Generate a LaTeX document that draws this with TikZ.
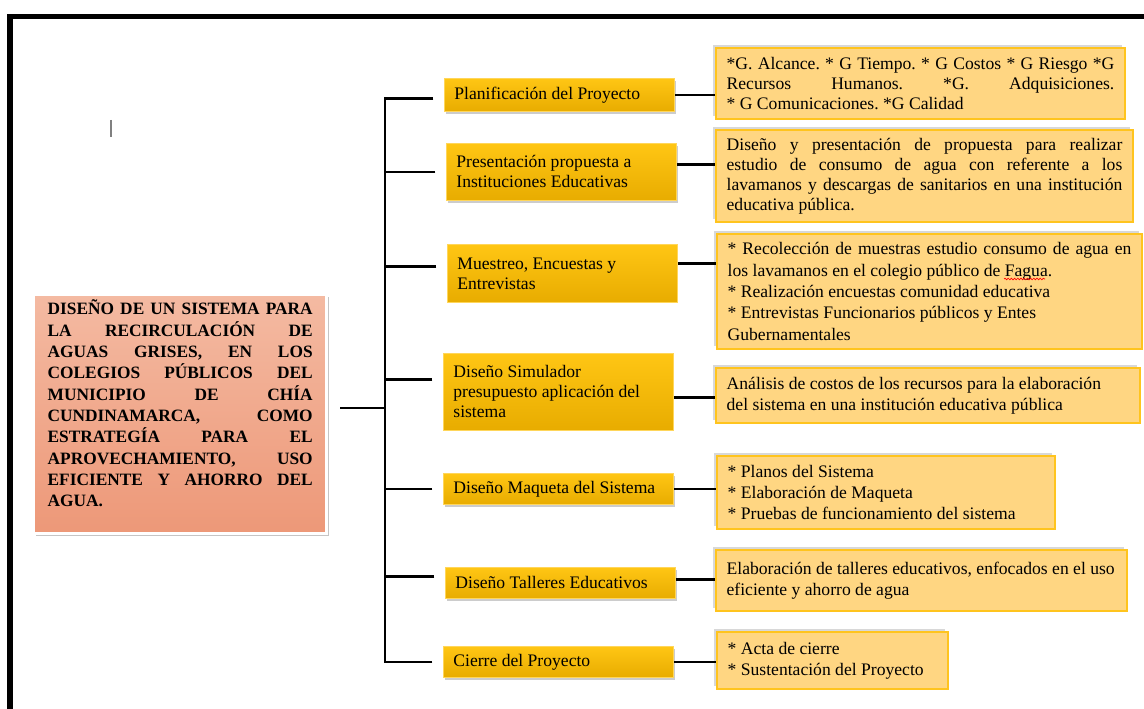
\documentclass[tikz,border=0pt]{standalone}
\usepackage{fontspec}
\setmainfont{Liberation Serif}
\usepackage{tikz}
\usetikzlibrary{positioning,calc,shadows,decorations.pathmorphing}
\frenchspacing

\definecolor{salmontop}{RGB}{244,186,162}
\definecolor{salmonbot}{RGB}{237,152,120}
\definecolor{goldtop}{RGB}{255,198,20}
\definecolor{goldbot}{RGB}{232,172,0}
\definecolor{goldline}{RGB}{255,214,90}
\definecolor{notefill}{RGB}{255,214,130}
\definecolor{noteline}{RGB}{255,196,30}

% one line stretched to the full width of the box
\newcommand\justline[1]{\makebox[\hsize][s]{\spaceskip=0pt\xspaceskip=0pt #1}}

\tikzset{
    title/.style={
        anchor=north west,
        draw=white,
        line width=2.5pt,
        top color=salmontop,
        bottom color=salmonbot,
        drop shadow={opacity=0.45, shadow xshift=1.5pt, shadow yshift=-2pt},
        text width=198.75pt,
        inner xsep=10.5pt,
        inner ysep=2pt,
        minimum height=179.25pt,
        align=justify,
        font=\bfseries\fontsize{13}{16}\selectfont
    },
    phasebox/.style={
        anchor=north west,
        draw=goldline,
        line width=0.6pt,
        top color=goldtop,
        bottom color=goldbot,
        text width=157.5pt,
        inner xsep=7.5pt,
        inner ysep=2pt,
        align=justify,
        font=\fontsize{13.2}{15}\selectfont
    },
    phase/.style={
        phasebox,
        drop shadow={opacity=0.4, shadow xshift=1.5pt, shadow yshift=-2pt}
    },
    task/.style={
        anchor=north west,
        fill=notefill,
        draw=noteline,
        line width=1.5pt,
        drop shadow={opacity=0.3, shadow xshift=-2pt, shadow yshift=2pt},
        inner xsep=8pt,
        inner ysep=2pt,
        align=justify,
        font=\fontsize{13.2}{16}\selectfont
    },
    link/.style={
        draw,
        line width=2pt
    },
    spellmark/.style={
        draw=red,
        line width=0.5pt,
        decorate,
        decoration={snake, amplitude=0.6pt, segment length=2.4pt}
    }
}

\begin{document}
\begin{tikzpicture}[x=0.75pt, y=-0.75pt]
  \path[use as bounding box, fill=white] (0,0) rectangle (1144,709);

  % page frame and cursor
  \draw[line width=4.2pt] (10,709) -- (10,16.5) -- (1144,16.5);
  \draw[gray, line width=0.9pt] (111,120) -- (111,137);

  % main title
  \node[title] (main) at (32,293) {
    \justline{DISEÑO DE UN SISTEMA PARA}\\
    \justline{LA RECIRCULACIÓN DE}\\
    \justline{AGUAS GRISES, EN LOS}\\
    \justline{COLEGIOS PÚBLICOS DEL}\\
    \justline{MUNICIPIO DE CHÍA}\\
    \justline{CUNDINAMARCA, COMO}\\
    \justline{ESTRATEGÍA PARA EL}\\
    \justline{APROVECHAMIENTO, USO}\\
    \justline{EFICIENTE Y AHORRO DEL}\\
    AGUA.\\
    \mbox{}};

  % phases
  \node[phase, minimum height=24.75pt] (plan) at (444,78) {Planificación del Proyecto};
  \node[phase, minimum height=42.75pt] (prop) at (446,143) {Presentación propuesta a\\ Instituciones Educativas};
  \node[phasebox, minimum height=43.5pt] (muest) at (447,244) {Muestreo, Encuestas y\\ Entrevistas};
  \node[phasebox, minimum height=57.75pt] (simul) at (443,353) {Diseño Simulador\\ presupuesto aplicación del\\ sistema};
  \node[phase, minimum height=23.25pt] (maq) at (443,473) {Diseño Maqueta del Sistema};
  \node[phase, minimum height=23.25pt] (tall) at (445,567) {Diseño Talleres Educativos};
  \node[phase, minimum height=23.25pt] (cierre) at (443,646) {Cierre del Proyecto};

  % tasks of each phase
  \node[task, text width=290.75pt, minimum height=53.25pt, font=\fontsize{13.2}{15}\selectfont] (d1) at (715,47) {
    \justline{*G. Alcance. * G Tiempo. * G Costos * G Riesgo *G}\\
    \justline{Recursos Humanos. *G. Adquisiciones.}\\
    {*} G Comunicaciones. *G Calidad};
  \node[task, text width=296.75pt, minimum height=69pt, font=\fontsize{13.2}{15}\selectfont] (d2) at (715,129) {
    \justline{Diseño y presentación de propuesta para realizar}\\
    \justline{estudio de consumo de agua con referente a los}\\
    \justline{lavamanos y descargas de sanitarios en una institución}\\
    educativa pública.};
  \node[task, text width=302.75pt, minimum height=86.25pt] (d3) at (716,233) {
    \justline{* Recolección de muestras estudio consumo de agua en}\\
    los lavamanos en el colegio público de Fagua.\\
    {*} Realización encuestas comunidad educativa\\
    {*} Entrevistas Funcionarios públicos y Entes\\
    Gubernamentales};
  \node[task, text width=302pt, minimum height=41.25pt] (d4) at (715,367) {
    Análisis de costos de los recursos para la elaboración\\
    del sistema en una institución educativa pública};
  \node[task, text width=237.5pt, minimum height=54.75pt] (d5) at (716,455) {
    {*} Planos del Sistema\\
    {*} Elaboración de Maqueta\\
    {*} Pruebas de funcionamiento del sistema};
  \node[task, text width=292.25pt, minimum height=45.75pt] (d6) at (715,549) {
    Elaboración de talleres educativos, enfocados en el uso\\
    eficiente y ahorro de agua};
  \node[task, text width=157.25pt, minimum height=42.75pt] (d7) at (716,631) {
    {*} Acta de cierre\\
    {*} Sustentación del Proyecto};

  % spell checker mark under Fagua
  \draw[spellmark] (1004,279) -- (1045,279);

  % tree from the title to the phases
  \coordinate (trunk) at (385,408);
  \draw[link] ($(trunk -| main.east)+(12,0)$) -- (trunk);
  \draw[link] ([xshift=-8pt,yshift=-2.6pt]plan.west) -| (trunk);
  \draw[link] ([xshift=-8pt]prop.west) -| (trunk);
  \draw[link] ([xshift=-8pt,yshift=5.2pt]muest.west) -| (trunk);
  \draw[link] ([xshift=-8pt,yshift=9.4pt]simul.west) -| (trunk);
  \draw[link] ([xshift=-8pt]maq.west) -| (trunk);
  \draw[link] ([xshift=-8pt,yshift=4.9pt]tall.west) -| (trunk);
  \draw[link] ([xshift=-8pt]cierre.west) -| (trunk);

  % phases to their tasks
  \draw[link] (plan.east) -- (plan.east -| d1.west);
  \draw[link] ($(prop.east)+(0,-7.5)$) -- ($(prop.east -| d2.west)+(0,-7.5)$);
  \draw[link] ($(muest.east)+(0,-10)$) -- ($(muest.east -| d3.west)+(0,-10)$);
  \draw[link] ($(simul.east)+(0,5.5)$) -- ($(simul.east -| d4.west)+(0,5.5)$);
  \draw[link] (maq.east) -- (maq.east -| d5.west);
  \draw[link] ($(tall.east)+(0,-3.5)$) -- ($(tall.east -| d6.west)+(0,-3.5)$);
  \draw[link] (cierre.east) -- (cierre.east -| d7.west);
\end{tikzpicture}
\end{document}
